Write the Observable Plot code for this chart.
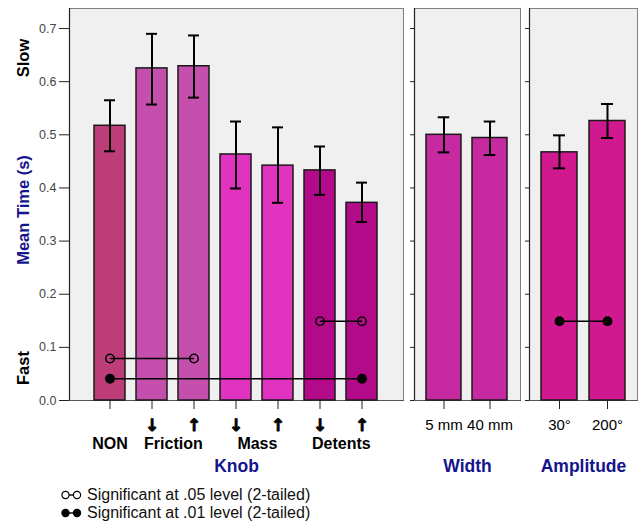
<!DOCTYPE html>
<html><head><meta charset="utf-8">
<script src="https://cdn.jsdelivr.net/npm/d3@7"></script>
<script src="https://cdn.jsdelivr.net/npm/@observablehq/plot@0.6"></script>
<style>
body{margin:0;background:#fff;font-family:Arial,"Liberation Sans",sans-serif;}
#root{position:relative;width:639px;height:522px;overflow:hidden;}
.panel{position:absolute;top:0;}
.ytitle{position:absolute;font-weight:bold;font-size:16.5px;white-space:nowrap;transform:translate(-50%,-50%) rotate(-90deg);}
.legend{position:absolute;left:61px;font-size:16px;line-height:18px;color:#111;display:flex;align-items:center;white-space:nowrap;}
.legend svg{margin-right:5px;}
</style></head><body><div id="root"></div>
<script>
// ---------- data ----------
const knobKeys   = ["NON","Friction↓","Friction↑","Mass↓","Mass↑","Detents↓","Detents↑"];
const knobArrows = ["","↓","↑","↓","↑","↓","↑"];
const knobMeans  = [0.517,0.625,0.629,0.463,0.442,0.433,0.372];
const knobLo     = [0.469,0.557,0.570,0.399,0.372,0.387,0.336];
const knobHi     = [0.565,0.690,0.687,0.525,0.514,0.478,0.410];
const knobColors = ["#bc3d78","#c44fac","#c44fac","#df33c0","#df33c0","#b20a88","#b20a88"];
const knobGroupNames  = ["NON","Friction","Mass","Detents"];
const knobGroupAnchor = ["NON","Friction↓","Mass↓","Detents↓"];
const knobGroupSpan   = [1,2,2,2];

const widthKeys  = ["5 mm","40 mm"];
const widthMeans = [0.500,0.494];
const widthLo    = [0.467,0.462];
const widthHi    = [0.533,0.525];
const widthColors = ["#c629a0","#c629a0"];

const ampKeys  = ["30°","200°"];
const ampMeans = [0.467,0.526];
const ampLo    = [0.437,0.494];
const ampHi    = [0.499,0.558];
const ampColors = ["#d0198e","#d0198e"];

const knobSigFrom  = ["NON","NON","Detents↓"];
const knobSigTo    = ["Friction↑","Detents↑","Detents↑"];
const knobSigY     = [0.079,0.041,0.149];
const knobSigLevel = [".05",".01",".05"];
const ampSigFrom  = ["30°"];
const ampSigTo    = ["200°"];
const ampSigY     = [0.149];
const ampSigLevel = [".01"];

const yTicks = [0,0.1,0.2,0.3,0.4,0.5,0.6,0.7];
const yMax = 0.7377;
const groupTitles = ["Knob","Width","Amplitude"];
const legendLabels = ["Significant at .05 level (2-tailed)","Significant at .01 level (2-tailed)"];

// ---------- build ----------
const FONT = "Arial, 'Liberation Sans', sans-serif";
const NAVY = "#14148c";
function rows(keys, means, lo, hi, colors){
  return keys.map((k,i)=>({key:k, mean:means[i], lo:lo[i], hi:hi[i], color:colors[i]}));
}
function sigRows(from,to,y,level){ return from.map((f,i)=>({from:f,to:to[i],y:y[i],level:level[i]})); }
function sigDots(s){ return s.flatMap(d=>[{x:d.from,y:d.y,level:d.level},{x:d.to,y:d.y,level:d.level}]); }

function panel({data, sig, width, ml, mr, pi, po, title, showY, tickAxis, extra}){
  const n = data.length;
  const range = width - ml - mr;
  const step = range/(n - pi + 2*po);
  const bw = step*(1-pi);
  const capInset = (bw - 12)/2;
  const dots = sigDots(sig);
  return Plot.plot({
    width, height: 480, marginLeft: ml, marginRight: mr, marginTop: 8, marginBottom: 80,
    style: {fontFamily: FONT, background: "transparent", overflow: "visible"},
    x: {domain: data.map(d=>d.key), paddingInner: pi, paddingOuter: po, label: null},
    y: {domain: [0, yMax], label: null},
    color: {type: "identity"},
    marks: [
      Plot.frame({fill: "#f0f0f0", stroke: "#808080", strokeWidth: 1}),
      Plot.frame({anchor: "left", stroke: "#222", strokeWidth: 1.2}),
      Plot.frame({anchor: "bottom", stroke: "#555", strokeWidth: 1.2}),
      showY
        ? Plot.axisY({ticks: yTicks, tickSize: 10, tickPadding: 3, tickFormat: d3.format(".1f"), fontSize: 12.5, fill: "#444", stroke: "#222", label: null})
        : Plot.axisY({ticks: yTicks, tickSize: 4, tickFormat: () => "", stroke: "#222", label: null}),
      tickAxis,
      Plot.barY(data, {x: "key", y: "mean", fill: "color", stroke: "#1a1a1a", strokeWidth: 1.5}),
      Plot.ruleX(data, {x: "key", y1: "lo", y2: "hi", stroke: "#000", strokeWidth: 2}),
      Plot.tickY(data, {x: "key", y: "hi", insetLeft: capInset, insetRight: capInset, stroke: "#000", strokeWidth: 2}),
      Plot.tickY(data, {x: "key", y: "lo", insetLeft: capInset, insetRight: capInset, stroke: "#000", strokeWidth: 2}),
      Plot.link(sig, {x1: "from", x2: "to", y1: "y", y2: "y", stroke: "#000", strokeWidth: 1.5}),
      Plot.dot(dots, {x: "x", y: "y", r: 4.2, stroke: "#000", strokeWidth: 1.5, fill: d => d.level === ".01" ? "#000" : "none"}),
      ...extra(step),
      Plot.text([title], {frameAnchor: "bottom", dy: 71, text: d => d, fill: NAVY, fontWeight: "bold", fontSize: 17.5})
    ]
  });
}

const knob = rows(knobKeys, knobMeans, knobLo, knobHi, knobColors);
const widthData = rows(widthKeys, widthMeans, widthLo, widthHi, widthColors);
const ampData = rows(ampKeys, ampMeans, ampLo, ampHi, ampColors);
const arrowOf = new Map(knobKeys.map((k,i)=>[k, knobArrows[i]]));
const groups = knobGroupNames.map((g,i)=>({name:g, anchor:knobGroupAnchor[i], span:knobGroupSpan[i]}));

const labelAxis = () => Plot.axisX({tickSize: 9, tickPadding: 10, tickFormat: d => d, fontSize: 15, fill: "#000", stroke: "#222", label: null});

const p1 = panel({
  data: knob, sig: sigRows(knobSigFrom, knobSigTo, knobSigY, knobSigLevel),
  width: 406, ml: 69, mr: 3, pi: 0.252, po: 0.527, title: groupTitles[0], showY: true,
  tickAxis: Plot.axisX({tickSize: 9, tickPadding: 9, tickFormat: d => arrowOf.get(d), fontFamily: "DejaVu Sans", fontSize: 17, fontWeight: "bold", fill: "#000", textStroke: "#000", textStrokeWidth: 0.9, stroke: "#222", label: null}),
  extra: step => [
    Plot.text(groups.filter(g=>g.span===1), {x: "anchor", text: "name", frameAnchor: "bottom", dy: 48, fontWeight: "bold", fontSize: 16, fill: "#000"}),
    Plot.text(groups.filter(g=>g.span===2), {x: "anchor", text: "name", frameAnchor: "bottom", dy: 48, dx: step/2, fontWeight: "bold", fontSize: 16, fill: "#000"})
  ]
});
const p2 = panel({
  data: widthData, sig: [], width: 120, ml: 11, mr: 3, pi: 0.237, po: 0.258, title: groupTitles[1], showY: false,
  tickAxis: labelAxis(), extra: () => []
});
const p3 = panel({
  data: ampData, sig: sigRows(ampSigFrom, ampSigTo, ampSigY, ampSigLevel), width: 116, ml: 6, mr: 2, pi: 0.25, po: 0.25, title: groupTitles[2], showY: false,
  tickAxis: labelAxis(), extra: () => []
});

const root = document.getElementById("root");
[[p1,0,406],[p2,403,120],[p3,523,116]].forEach(([p,left,w])=>{
  const div = document.createElement("div");
  div.className = "panel"; div.style.left = left+"px"; div.style.width = w+"px";
  div.appendChild(p); root.appendChild(div);
});

// y titles
[["Slow",58,"#000"],["Mean Time (s)",210,NAVY],["Fast",368,"#000"]].forEach(([t,y,c])=>{
  const d = document.createElement("div");
  d.className = "ytitle"; d.textContent = t; d.style.left = "23px"; d.style.top = y+"px"; d.style.color = c;
  root.appendChild(d);
});

// legend
legendLabels.forEach((t,i)=>{
  const d = document.createElement("div");
  d.className = "legend"; d.style.top = (486 + i*18)+"px";
  const filled = i===1;
  d.innerHTML = `<svg width="21" height="12"><line x1="4.5" y1="6" x2="16" y2="6" stroke="#000" stroke-width="1.4"/><circle cx="4.5" cy="6" r="3.6" fill="${filled?'#000':'#fff'}" stroke="#000" stroke-width="1.2"/><circle cx="16" cy="6" r="3.6" fill="${filled?'#000':'#fff'}" stroke="#000" stroke-width="1.2"/></svg><span></span>`;
  d.querySelector("span").textContent = t;
  root.appendChild(d);
});
</script></body></html>
